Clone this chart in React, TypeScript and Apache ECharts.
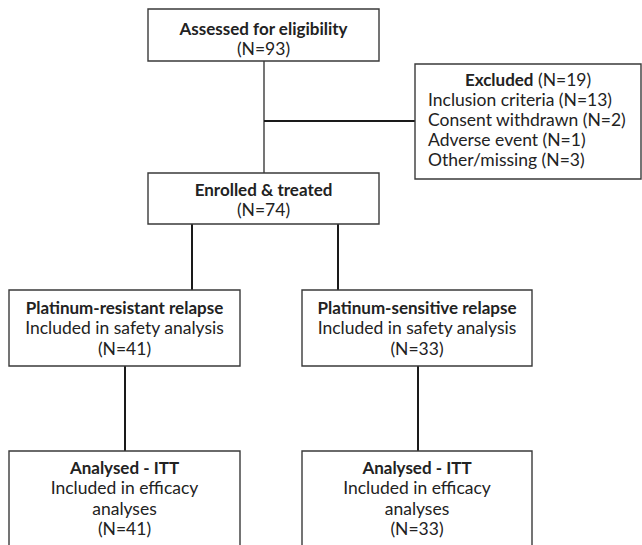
import React, { useEffect, useRef } from "react";
import * as echarts from "echarts";

// ---- Data ----
const stageTitles = [
  "Assessed for eligibility",
  "Enrolled & treated",
  "Platinum-resistant relapse",
  "Platinum-sensitive relapse",
  "Analysed - ITT",
  "Analysed - ITT",
];
const stageNotes: string[][] = [
  [],
  [],
  ["Included in safety analysis"],
  ["Included in safety analysis"],
  ["Included in efficacy", "analyses"],
  ["Included in efficacy", "analyses"],
];
const stageCounts = [93, 74, 41, 33, 41, 33];
const excludedLabel = "Excluded";
const excludedTotal = 19;
const exclusionReasons = ["Inclusion criteria", "Consent withdrawn", "Adverse event", "Other/missing"];
const exclusionCounts = [13, 2, 1, 3];

// ---- Layout (positions / sizes) ----
const boxRects = [
  [148, 9, 231, 52],
  [148, 173, 231, 51],
  [9, 290, 231, 76],
  [302, 290, 230, 76],
  [9, 451, 231, 130],
  [302, 451, 230, 130],
];
const firstLineY = [28, 189, 307, 307, 467, 467];
const lineGap = 20.5;
const excludedRect = [415, 64, 226, 115];
const excludedFirstY = 79;
const excludedGap = 20;
const excludedTextX = 428;
const connectors = [
  { pts: [264, 61, 264, 173], w: 1.2 },
  { pts: [264, 121, 415, 121], w: 1.8 },
  { pts: [192, 224, 192, 290], w: 2 },
  { pts: [338, 224, 338, 290], w: 2 },
  { pts: [125, 366, 125, 451], w: 2 },
  { pts: [418, 366, 418, 451], w: 2 },
];

const FONT = "Lato, 'Noto Sans', sans-serif";
const FS_BOLD = 17;
const FS_REG = 17.5;
const TEXT_COLOR = "#222";
const BORDER = "#3a3a3a";

export default function App() {
  const ref = useRef<HTMLDivElement>(null);
  useEffect(() => {
    if (!ref.current) return;
    const chart = echarts.init(ref.current, undefined, { renderer: "svg" });
    const elements: any[] = [];

    connectors.forEach((c) => {
      elements.push({
        type: "line",
        shape: { x1: c.pts[0], y1: c.pts[1], x2: c.pts[2], y2: c.pts[3] },
        style: { stroke: "#1a1a1a", lineWidth: c.w },
        z: 1,
      });
    });

    stageTitles.forEach((title, i) => {
      const [x, y, w, h] = boxRects[i];
      elements.push({
        type: "rect",
        shape: { x, y, width: w, height: h },
        style: { fill: "#fff", stroke: BORDER, lineWidth: 1.4 },
        z: 2,
      });
      const lines = [
        { t: title, bold: true },
        ...stageNotes[i].map((n) => ({ t: n, bold: false })),
        { t: `(N=${stageCounts[i]})`, bold: false },
      ];
      const cx = x + w / 2;
      lines.forEach((ln, k) => {
        elements.push({
          type: "text",
          x: cx,
          y: firstLineY[i] + k * lineGap,
          style: {
            text: ln.t,
            fill: TEXT_COLOR,
            font: ln.bold ? `bold ${FS_BOLD}px ${FONT}` : `${FS_REG}px ${FONT}`,
            textAlign: "center",
            textVerticalAlign: "middle",
          },
          z: 3,
        });
      });
    });

    const [ex, ey, ew, eh] = excludedRect;
    elements.push({
      type: "rect",
      shape: { x: ex, y: ey, width: ew, height: eh },
      style: { fill: "#fff", stroke: BORDER, lineWidth: 1.4 },
      z: 2,
    });
    elements.push({
      type: "text",
      x: ex + ew / 2,
      y: excludedFirstY,
      style: {
        text: `{b|${excludedLabel}}{n| (N=${excludedTotal})}`,
        textAlign: "center",
        textVerticalAlign: "middle",
        rich: {
          b: { fontFamily: FONT, fontSize: FS_BOLD, fontWeight: "bold", fill: TEXT_COLOR, color: TEXT_COLOR },
          n: { fontFamily: FONT, fontSize: FS_REG, fill: TEXT_COLOR, color: TEXT_COLOR },
        },
      },
      z: 3,
    });
    exclusionReasons.forEach((r, k) => {
      elements.push({
        type: "text",
        x: excludedTextX,
        y: excludedFirstY + (k + 1) * excludedGap,
        style: {
          text: `${r} (N=${exclusionCounts[k]})`,
          fill: TEXT_COLOR,
          font: `${FS_REG}px ${FONT}`,
          textAlign: "left",
          textVerticalAlign: "middle",
        },
        z: 3,
      });
    });

    chart.setOption({
      animation: false,
      backgroundColor: "#fff",
      graphic: { elements },
    });
    return () => chart.dispose();
  }, []);
  return (
    <div
      ref={ref}
      style={{ position: "fixed", left: 0, top: 0, width: 642, height: 545, background: "#fff" }}
    />
  );
}
